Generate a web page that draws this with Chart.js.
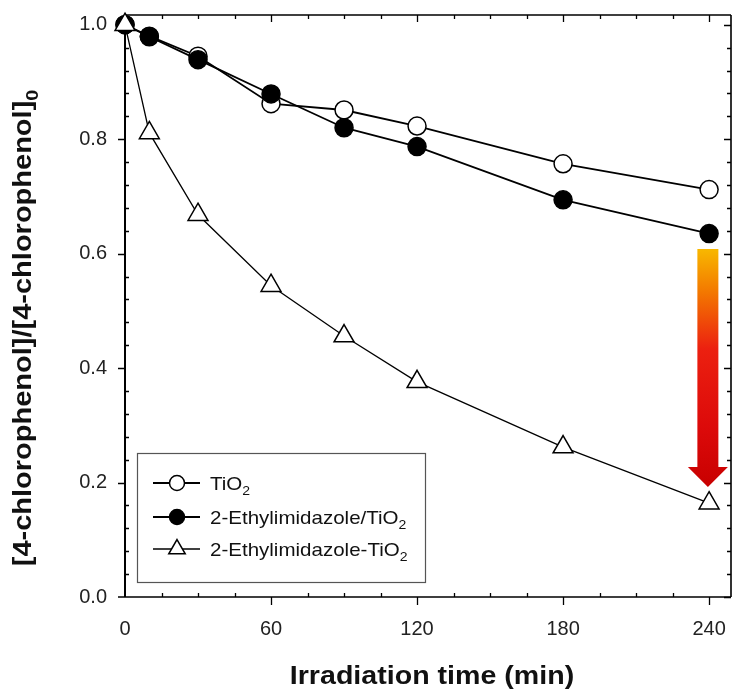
<!DOCTYPE html>
<html>
<head>
<meta charset="utf-8">
<script src="https://cdn.jsdelivr.net/npm/chart.js@4/dist/chart.umd.min.js"></script>
<style>
  html, body { margin: 0; padding: 0; background: #ffffff; }
  #wrap { width: 732px; height: 695px; }
</style>
</head>
<body>
<div id="wrap"><canvas id="c" width="732" height="695"></canvas></div>
<script>
// ---- data ----
const times = [0, 10, 30, 60, 90, 120, 180, 240];
const tio2 = [1.0, 0.98, 0.945, 0.862, 0.851, 0.823, 0.757, 0.712];
const ethylMixed = [1.0, 0.979, 0.939, 0.879, 0.82, 0.787, 0.694, 0.635];
const ethylBound = [1.0, 0.811, 0.668, 0.544, 0.456, 0.376, 0.262, 0.164];
const xTickValues = [0, 60, 120, 180, 240];
const yTickValues = [0.0, 0.2, 0.4, 0.6, 0.8, 1.0];
const seriesNames = ['TiO', '2-Ethylimidazole/TiO', '2-Ethylimidazole-TiO'];
const seriesSub = ['2', '2', '2'];
const xTitle = 'Irradiation time (min)';
const yTitle = '[4-chlorophenol]/[4-chlorophenol]';
const yTitleSub = '0';
// arrow: from the 2-Ethylimidazole/TiO2 level down to the 2-Ethylimidazole-TiO2 level at 240 min
const arrowX = 239.5;
const arrowTop = 0.608;
const arrowHeadBase = 0.227;
const arrowTip = 0.192;

const FONT = '"Liberation Sans", Arial, Helvetica, sans-serif';

function pts(ys) { return times.map((t, i) => ({ x: t, y: ys[i] })); }

// text with subscript, drawn with horizontal stretch
function drawSubText(ctx, x, y, main, sub, size, bold, stretch, align) {
  ctx.save();
  const w = bold ? 'bold ' : '';
  ctx.font = w + size + 'px ' + FONT;
  const w1 = ctx.measureText(main).width;
  const subSize = Math.round(size * 0.68);
  ctx.font = w + subSize + 'px ' + FONT;
  const w2 = sub ? ctx.measureText(sub).width : 0;
  const total = (w1 + w2) * stretch;
  let sx = x;
  if (align === 'center') sx = x - total / 2;
  ctx.translate(sx, y);
  ctx.scale(stretch, 1);
  ctx.textBaseline = 'alphabetic';
  ctx.textAlign = 'left';
  ctx.font = w + size + 'px ' + FONT;
  ctx.fillText(main, 0, 0);
  if (sub) {
    ctx.font = w + subSize + 'px ' + FONT;
    ctx.fillText(sub, w1, size * 0.28);
  }
  ctx.restore();
}

const framePlugin = {
  id: 'frame',
  beforeDatasetsDraw(chart) {
    const ctx = chart.ctx;
    const xs = chart.scales.x, ys = chart.scales.y;
    const a = chart.chartArea;
    ctx.save();
    ctx.strokeStyle = '#000';
    ctx.lineCap = 'butt';
    // frame
    ctx.lineWidth = 1.6;
    ctx.beginPath();
    ctx.moveTo(a.left, a.top); ctx.lineTo(a.right, a.top);
    ctx.moveTo(a.right, a.top); ctx.lineTo(a.right, a.bottom);
    ctx.moveTo(a.left - 7, a.bottom); ctx.lineTo(a.right, a.bottom);
    ctx.stroke();
    ctx.lineWidth = 2;
    ctx.beginPath();
    ctx.moveTo(a.left, a.top); ctx.lineTo(a.left, a.bottom);
    ctx.stroke();
    ctx.lineWidth = 1.3;
    ctx.beginPath();
    // x ticks
    for (let v = 0; v <= xs.max + 1e-9; v += 15) {
      const px = Math.round(xs.getPixelForValue(v)) + 0.5;
      const major = Math.abs(v % 60) < 1e-6;
      if (major) {
        if (v !== 0) { ctx.moveTo(px, a.bottom); ctx.lineTo(px, a.bottom + 8); }
        if (v !== 0) { ctx.moveTo(px, a.top); ctx.lineTo(px, a.top + 7); }
      } else {
        ctx.moveTo(px, a.bottom); ctx.lineTo(px, a.bottom - 4);
        ctx.moveTo(px, a.top); ctx.lineTo(px, a.top + 4);
      }
    }
    // y ticks
    for (let k = 0; k * 0.04 <= ys.max + 1e-9; k++) {
      const v = k * 0.04;
      const py = Math.round(ys.getPixelForValue(v)) + 0.5;
      const major = k % 5 === 0;
      if (major) {
        if (k !== 0) { ctx.moveTo(a.left - 7, py); ctx.lineTo(a.left, py); }
        ctx.moveTo(a.right, py); ctx.lineTo(a.right - 7, py);
      } else {
        ctx.moveTo(a.left, py); ctx.lineTo(a.left + 4, py);
        ctx.moveTo(a.right, py); ctx.lineTo(a.right - 4, py);
      }
    }
    ctx.stroke();
    ctx.restore();
  },
  afterDatasetsDraw(chart) {
    const ctx = chart.ctx;
    const xs = chart.scales.x, ys = chart.scales.y;
    const a = chart.chartArea;
    // gradient arrow
    const cx = xs.getPixelForValue(arrowX);
    const yTop = ys.getPixelForValue(arrowTop);
    const yBase = ys.getPixelForValue(arrowHeadBase);
    const yTip = ys.getPixelForValue(arrowTip);
    const g = ctx.createLinearGradient(0, yTop, 0, yTip);
    g.addColorStop(0, '#f8b800');
    g.addColorStop(0.18, '#f37800');
    g.addColorStop(0.42, '#ec2010');
    g.addColorStop(0.75, '#dc0a0a');
    g.addColorStop(1, '#c80000');
    ctx.save();
    ctx.fillStyle = g;
    ctx.beginPath();
    ctx.moveTo(cx - 10.5, yTop);
    ctx.lineTo(cx + 10.5, yTop);
    ctx.lineTo(cx + 10.5, yBase);
    ctx.lineTo(cx + 20, yBase);
    ctx.lineTo(cx, yTip);
    ctx.lineTo(cx - 20, yBase);
    ctx.lineTo(cx - 10.5, yBase);
    ctx.closePath();
    ctx.fill();
    ctx.restore();

    // legend box
    const bx = a.left + 12, bw = 288, bh = 129;
    const by = a.bottom - 15 - bh;
    ctx.save();
    ctx.fillStyle = '#fff';
    ctx.fillRect(bx, by, bw, bh);
    ctx.strokeStyle = '#555';
    ctx.lineWidth = 1.2;
    ctx.strokeRect(bx + 0.5, by + 0.5, bw, bh);
    const rows = [by + 30, by + 64, by + 96];
    chart.data.datasets.forEach((ds, i) => {
      const ry = rows[i];
      ctx.strokeStyle = '#000';
      ctx.lineWidth = i === 2 ? 1.3 : 1.8;
      ctx.beginPath();
      ctx.moveTo(bx + 16, ry); ctx.lineTo(bx + 63, ry);
      ctx.stroke();
      ctx.lineWidth = 1.5;
      ctx.fillStyle = ds.pointBackgroundColor;
      ctx.beginPath();
      if (i === 2) {
        const r = 9.5;
        ctx.moveTo(bx + 40, ry - r);
        ctx.lineTo(bx + 40 + r * 0.866, ry + r * 0.5);
        ctx.lineTo(bx + 40 - r * 0.866, ry + r * 0.5);
        ctx.closePath();
      } else {
        ctx.arc(bx + 40, ry, 7.5, 0, Math.PI * 2);
      }
      ctx.fill();
      ctx.stroke();
      ctx.fillStyle = '#111';
      drawSubText(ctx, bx + 73, ry + 7, seriesNames[i], seriesSub[i], 19, false, 1.08, 'left');
    });
    ctx.restore();

    // axis titles
    ctx.save();
    ctx.fillStyle = '#111';
    drawSubText(ctx, (a.left + a.right) / 2 + 4, 684, xTitle, '', 26, true, 1.1, 'center');
    ctx.translate(31, 328);
    ctx.rotate(-Math.PI / 2);
    drawSubText(ctx, 0, 0, yTitle, yTitleSub, 25, true, 1.16, 'center');
    ctx.restore();
  }
};

new Chart(document.getElementById('c'), {
  type: 'line',
  data: {
    datasets: [
      {
        label: 'TiO2', data: pts(tio2), order: 3,
        borderColor: '#000', borderWidth: 1.8,
        pointStyle: 'circle', pointRadius: 9, pointBorderWidth: 1.5,
        pointBackgroundColor: '#fff', pointBorderColor: '#000', tension: 0
      },
      {
        label: '2-Ethylimidazole/TiO2', data: pts(ethylMixed), order: 2,
        borderColor: '#000', borderWidth: 1.8,
        pointStyle: 'circle', pointRadius: 9, pointBorderWidth: 1.5,
        pointBackgroundColor: '#000', pointBorderColor: '#000', tension: 0
      },
      {
        label: '2-Ethylimidazole-TiO2', data: pts(ethylBound), order: 1,
        borderColor: '#000', borderWidth: 1.3,
        pointStyle: 'triangle', pointRadius: 11.5, pointBorderWidth: 1.5,
        pointBackgroundColor: '#fff', pointBorderColor: '#000', tension: 0
      }
    ]
  },
  options: {
    responsive: false,
    animation: false,
    events: [],
    clip: false,
    layout: { autoPadding: false, padding: { top: 15, right: 1, left: 0, bottom: 0 } },
    plugins: { legend: { display: false }, tooltip: { enabled: false }, title: { display: false } },
    scales: {
      x: {
        type: 'linear', min: 0, max: 249,
        grid: { display: false, drawTicks: true, tickLength: 20 },
        border: { display: false },
        afterBuildTicks: (s) => { s.ticks = xTickValues.map(v => ({ value: v })); },
        afterFit: (s) => { s.height = 98; },
        ticks: {
          font: { family: FONT, size: 20 }, color: '#222', padding: 0, maxRotation: 0,
          callback: (v) => String(v)
        }
      },
      y: {
        type: 'linear', min: 0, max: 1.017,
        grid: { display: false, drawTicks: true, tickLength: 18 },
        border: { display: false },
        afterBuildTicks: (s) => { s.ticks = yTickValues.map(v => ({ value: v })); },
        afterFit: (s) => { s.width = 125; },
        ticks: {
          font: { family: FONT, size: 20 }, color: '#222', padding: 0,
          callback: (v) => Number(v).toFixed(1)
        }
      }
    }
  },
  plugins: [framePlugin]
});
</script>
</body>
</html>
